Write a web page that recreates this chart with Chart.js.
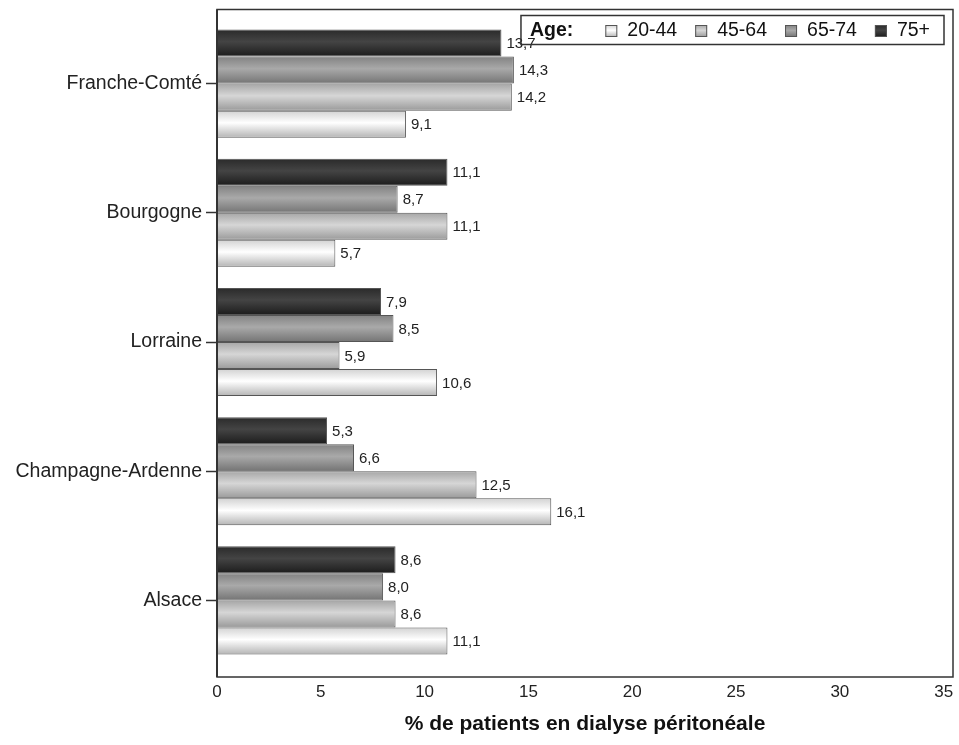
<!DOCTYPE html>
<html>
<head>
<meta charset="utf-8">
<script src="https://cdn.jsdelivr.net/npm/chart.js@4/dist/chart.umd.min.js"></script>
<style>
  html, body { margin: 0; padding: 0; background: #fff; }
  #wrap { width: 959px; height: 745px; }
</style>
</head>
<body>
<div id="wrap"><canvas id="dialyse"></canvas></div>
<script>
// regions, top to bottom
var regions = ['Franche-Comté', 'Bourgogne', 'Lorraine', 'Champagne-Ardenne', 'Alsace'];

// % de patients en dialyse péritonéale, par tranche d'âge
var age20_44 = [9.1, 5.7, 10.6, 16.1, 11.1];
var age45_64 = [14.2, 11.1, 5.9, 12.5, 8.6];
var age65_74 = [14.3, 8.7, 8.5, 6.6, 8.0];
var age75plus = [13.7, 11.1, 7.9, 5.3, 8.6];

var xTicks = [0, 5, 10, 15, 20, 25, 30, 35];

var FONT = '"Liberation Sans", Arial, sans-serif';

// shading stops for each age group (edge, middle, edge)
var shades = {
    '20-44': ['#d2d2d2', '#ffffff', '#b4b4b4'],
    '45-64': ['#a6a6a6', '#d6d6d6', '#9a9a9a'],
    '65-74': ['#828282', '#a9a9a9', '#747474'],
    '75+':   ['#2a2a2a', '#444444', '#1c1c1c']
};

function degrade(ctx, top, bottom, key) {
    var s = shades[key];
    var g = ctx.createLinearGradient(0, top, 0, bottom);
    g.addColorStop(0, s[0]);
    g.addColorStop(0.45, s[1]);
    g.addColorStop(1, s[2]);
    return g;
}

// datasets top-to-bottom inside each group: 75+, 65-74, 45-64, 20-44
var series = [
    { label: '75+', data: age75plus },
    { label: '65-74', data: age65_74 },
    { label: '45-64', data: age45_64 },
    { label: '20-44', data: age20_44 }
];

// gradient for each bar, once positions are known
var pluginDegrade = {
    id: 'degrade',
    beforeDatasetsDraw: function(chart) {
        var ctx = chart.ctx;
        chart.data.datasets.forEach(function(ds, i) {
            chart.getDatasetMeta(i).data.forEach(function(bar) {
                var h = bar.height;
                var o = Object.assign({}, bar.options);
                o.backgroundColor = degrade(ctx, bar.y - h / 2, bar.y + h / 2, ds.label);
                bar.options = o;
            });
        });
    }
};

// value labels, french decimal comma
var pluginValeurs = {
    id: 'valeurs',
    afterDatasetsDraw: function(chart) {
        var ctx = chart.ctx;
        ctx.save();
        ctx.font = '15px ' + FONT;
        ctx.fillStyle = '#222';
        ctx.textAlign = 'left';
        ctx.textBaseline = 'middle';
        chart.data.datasets.forEach(function(ds, i) {
            chart.getDatasetMeta(i).data.forEach(function(bar, j) {
                var txt = ds.data[j].toFixed(1).replace('.', ',');
                ctx.fillText(txt, bar.x + 5, bar.y + 1);
            });
        });
        ctx.restore();
    }
};

// frame around the plot + legend box "Age:"
var pluginCadre = {
    id: 'cadre',
    afterDraw: function(chart) {
        var ctx = chart.ctx;
        var a = chart.chartArea;
        var top = a.top - 9.5, bottom = a.bottom + 12;
        ctx.save();
        ctx.strokeStyle = '#333';
        ctx.lineWidth = 1.5;
        ctx.strokeRect(a.left, top, a.right - a.left, bottom - top);
        ctx.lineWidth = 2;
        ctx.beginPath();
        ctx.moveTo(a.left, top);
        ctx.lineTo(a.left, bottom);
        ctx.stroke();

        // legend
        var items = chart.data.datasets.slice().reverse();
        ctx.font = '19.5px ' + FONT;
        var wItems = 0;
        items.forEach(function(ds) { wItems += 12 + 10 + ctx.measureText(ds.label).width; });
        wItems += 18 * (items.length - 1);
        ctx.font = 'bold 19.5px ' + FONT;
        var wAge = ctx.measureText('Age:').width;
        var boxW = 9 + wAge + 32 + wItems + 14;
        var boxR = a.right - 9, boxT = top + 6, boxH = 29;
        var boxL = boxR - boxW;
        var cy = boxT + boxH / 2 + 1;

        ctx.lineWidth = 1.5;
        ctx.strokeStyle = '#333';
        ctx.strokeRect(boxL, boxT, boxW, boxH);

        ctx.fillStyle = '#111';
        ctx.textBaseline = 'middle';
        ctx.textAlign = 'left';
        ctx.fillText('Age:', boxL + 9, cy);

        var x = boxL + 9 + wAge + 32;
        ctx.font = '19.5px ' + FONT;
        items.forEach(function(ds) {
            ctx.fillStyle = degrade(ctx, cy - 6, cy + 6, ds.label);
            ctx.fillRect(x, cy - 6, 12, 12);
            ctx.lineWidth = 1;
            ctx.strokeStyle = '#555';
            ctx.strokeRect(x + 0.5, cy - 5.5, 11, 11);
            x += 12 + 10;
            ctx.fillStyle = '#111';
            ctx.fillText(ds.label, x, cy);
            x += ctx.measureText(ds.label).width + 18;
        });
        ctx.restore();
    }
};

var ctxDialyse = document.getElementById('dialyse').getContext('2d');
var chartDialyse = new Chart(ctxDialyse, {
    type: 'bar',
    data: {
        labels: regions,
        datasets: series.map(function(s) {
            return {
                label: s.label,
                data: s.data,
                backgroundColor: shades[s.label][1],
                borderColor: '#555',
                borderWidth: 1,
                categoryPercentage: 0.837,
                barPercentage: 1
            };
        })
    },
    options: {
        indexAxis: 'y',
        responsive: true,
        maintainAspectRatio: false,
        animation: false,
        devicePixelRatio: 1,
        layout: { padding: { top: 19, right: 6, bottom: 0, left: 0 } },
        plugins: {
            legend: { display: false },
            tooltip: { enabled: false }
        },
        scales: {
            x: {
                min: 0,
                max: 35.45,
                afterFit: function(scale) {
                    scale.height = 80;
                    scale.paddingLeft = 0;
                    scale.paddingRight = 0;
                },
                afterBuildTicks: function(scale) {
                    scale.ticks = xTicks.map(function(v) { return { value: v }; });
                },
                grid: { display: false, drawTicks: false },
                border: { display: false },
                ticks: {
                    padding: 17,
                    color: '#222',
                    maxRotation: 0,
                    font: { family: FONT, size: 17 }
                },
                title: {
                    display: true,
                    text: '% de patients en dialyse péritonéale',
                    color: '#111',
                    font: { family: FONT, size: 21, weight: 'bold' },
                    padding: { top: 0, bottom: 8 }
                }
            },
            y: {
                afterFit: function(scale) { scale.width = 217; },
                grid: {
                    display: true,
                    drawOnChartArea: false,
                    drawTicks: true,
                    offset: false,
                    tickLength: 11,
                    tickWidth: 1.5,
                    tickColor: '#333'
                },
                border: { display: false },
                ticks: {
                    padding: 4,
                    color: '#222',
                    font: { family: FONT, size: 19.5 }
                }
            }
        }
    },
    plugins: [pluginDegrade, pluginValeurs, pluginCadre]
});
</script>
</body>
</html>
